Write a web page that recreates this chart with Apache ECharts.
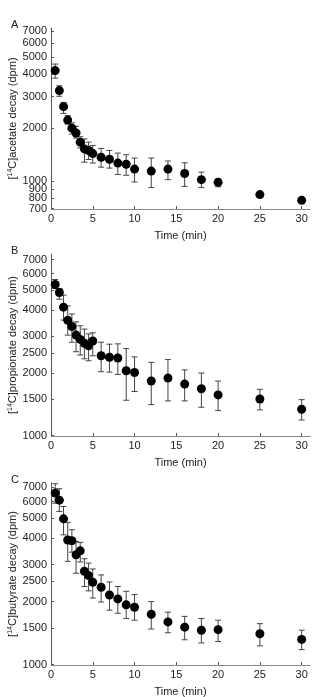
<!DOCTYPE html>
<html>
<head>
    <meta charset="utf-8">
    <title>14C decay</title>
    <style>
        body { margin: 0; padding: 0; background: #fff; }
        #main { width: 314px; height: 697px; }
    </style>
</head>
<body>
    <div id="main"></div>
    <script src="https://cdn.jsdelivr.net/npm/echarts@6/dist/echarts.min.js"></script>
    <script>
        // sampling times (min), shared by all three panels
        var times = [0.5, 1, 1.5, 2, 2.5, 3, 3.5, 4, 4.5, 5, 6, 7, 8, 9, 10, 12, 14, 16, 18, 20, 25, 30];

        // A: acetate
        var acetateMean = [4200, 3240, 2630, 2210, 1990, 1870, 1660, 1520, 1490, 1430, 1365, 1330, 1265, 1245, 1170, 1140, 1170, 1105, 1020, 985, 840, 780];
        var acetateHigh = [4570, 3450, 2780, 2340, 2130, 2040, 1780, 1730, 1660, 1590, 1530, 1490, 1440, 1410, 1350, 1350, 1300, 1270, 1125, 1030, null, null];
        var acetateLow = [3810, 3010, 2410, 2100, 1845, 1750, 1540, 1280, 1325, 1265, 1200, 1185, 1090, 1080, 990, 920, 1020, 935, 920, 930, null, null];

        // B: propionate
        var propionateMean = [5320, 4870, 4140, 3580, 3340, 3040, 2900, 2780, 2700, 2850, 2420, 2380, 2360, 2050, 2010, 1830, 1890, 1770, 1680, 1570, 1500, 1340];
        var propionateHigh = [5620, 5090, 4730, 4200, 3840, 3520, 3370, 3250, 3080, 3120, 2810, 2750, 2760, 2620, 2390, 2250, 2320, 2070, 2000, 1830, 1670, 1490];
        var propionateLow = [5090, 4520, 3590, 3040, 2810, 2530, 2440, 2340, 2290, 2420, 2030, 2020, 1970, 1480, 1630, 1410, 1470, 1470, 1370, 1320, 1330, 1190];

        // C: butyrate
        var butyrateMean = [6580, 6090, 4960, 3930, 3900, 3340, 3490, 2790, 2660, 2470, 2340, 2150, 2060, 1930, 1880, 1740, 1600, 1510, 1460, 1470, 1405, 1320];
        var butyrateHigh = [7290, 6900, 5680, 4770, 4400, 3870, 3830, 3200, 3050, 2860, 2680, 2480, 2360, 2240, 2160, 2000, 1780, 1700, 1660, 1630, 1570, 1460];
        var butyrateLow = [5890, 5380, 4160, 3110, 3440, 2730, 3090, 2360, 2250, 2080, 1990, 1820, 1760, 1660, 1630, 1480, 1420, 1315, 1270, 1290, 1230, 1180];

        var xTicks = [0, 5, 10, 15, 20, 25, 30];
        var yTicksA = [700, 800, 900, 1000, 2000, 3000, 4000, 5000, 6000, 7000];
        // panel A labels are split over two stacked axes so the tight 700-1000 labels aren't dropped as overlapping
        var yLabelsA = [700, 900, 2000, 3000, 4000, 5000, 6000, 7000];
        var yLabelsA2 = [800, 1000];
        var yTicksBC = [1000, 1500, 2000, 2500, 3000, 4000, 5000, 6000, 7000];

        var panels = [
            { letter: 'A', name: 'acetate', mean: acetateMean, hi: acetateHigh, lo: acetateLow, ticks: yTicksA, labels: yLabelsA, labels2: yLabelsA2, min: 697, max: 7300, top: 28, height: 181 },
            { letter: 'B', name: 'propionate', mean: propionateMean, hi: propionateHigh, lo: propionateLow, ticks: yTicksBC, labels: yTicksBC, min: 997, max: 7450, top: 254, height: 182 },
            { letter: 'C', name: 'butyrate', mean: butyrateMean, hi: butyrateHigh, lo: butyrateLow, ticks: yTicksBC, labels: yTicksBC, min: 997, max: 7350, top: 483, height: 182 }
        ];

        var font = 'Liberation Sans, Arial, sans-serif';
        var textColor = '#222';
        var axisColor = '#555';

        var grids = [], xAxes = [], yAxes = [], series = [], titles = [];

        function labelFmt(v) { return String(Math.round(v)); }

        panels.forEach(function (p, i) {
            grids.push({ left: 51, right: 4, top: p.top, height: p.height, outerBoundsMode: 'none', containLabel: false });
            titles.push({
                text: p.letter, left: 6, top: p.top - 14,
                textStyle: { fontFamily: font, fontSize: 11, fontWeight: 'normal', color: textColor }
            });
            xAxes.push({
                type: 'value', gridIndex: i, min: 0, max: 31,
                name: 'Time (min)', nameLocation: 'middle', nameGap: 21, nameMoveOverlap: false,
                nameTextStyle: { fontFamily: font, fontSize: 11, color: textColor },
                axisLine: { lineStyle: { color: '#888', width: 1 } },
                axisTick: { inside: true, length: 3, customValues: xTicks, lineStyle: { color: axisColor } },
                axisLabel: { customValues: xTicks, margin: 4, fontFamily: font, fontSize: 11, color: textColor },
                splitLine: { show: false }
            });

            var yIndex = yAxes.length;
            yAxes.push({
                type: 'log', gridIndex: i, position: 'left', min: p.min, max: p.max,
                name: '[{s|14}C]' + p.name + ' decay (dpm)', nameLocation: 'middle', nameGap: 33, nameMoveOverlap: false,
                nameTextStyle: {
                    fontFamily: font, fontSize: 11, color: textColor,
                    rich: { s: { fontFamily: font, fontSize: 7, color: textColor, verticalAlign: 'top', lineHeight: 8 } }
                },
                axisLine: { show: true, lineStyle: { color: axisColor, width: 1 } },
                axisTick: { inside: true, length: 3, customValues: p.ticks, lineStyle: { color: axisColor } },
                axisLabel: {
                    customValues: p.labels, margin: 4, fontFamily: font, fontSize: 11, color: textColor,
                    showMinLabel: true, showMaxLabel: true, hideOverlap: false,
                    formatter: labelFmt
                },
                splitLine: { show: false }
            });
            if (p.labels2) {
                yAxes.push({
                    type: 'log', gridIndex: i, position: 'left', offset: 0, min: p.min, max: p.max,
                    axisLine: { show: false },
                    axisTick: { show: false },
                    axisLabel: {
                        customValues: p.labels2, margin: 4, fontFamily: font, fontSize: 11, color: textColor,
                        showMinLabel: true, showMaxLabel: true, hideOverlap: false,
                        formatter: labelFmt
                    },
                    splitLine: { show: false }
                });
            }

            var errData = [];
            for (var k = 0; k < times.length; k++) {
                if (p.hi[k] != null) errData.push([times[k], p.lo[k], p.hi[k]]);
            }
            series.push({
                type: 'custom', xAxisIndex: i, yAxisIndex: yIndex, z: 1,
                encode: { x: 0, y: [1, 2] },
                renderItem: function (params, api) {
                    var x = api.value(0);
                    var a = api.coord([x, api.value(1)]);
                    var b = api.coord([x, api.value(2)]);
                    var cap = 3;
                    var st = { stroke: '#444', lineWidth: 1, fill: null };
                    return {
                        type: 'group',
                        children: [
                            { type: 'line', shape: { x1: a[0], y1: a[1], x2: b[0], y2: b[1] }, style: st },
                            { type: 'line', shape: { x1: a[0] - cap, y1: a[1], x2: a[0] + cap, y2: a[1] }, style: st },
                            { type: 'line', shape: { x1: b[0] - cap, y1: b[1], x2: b[0] + cap, y2: b[1] }, style: st }
                        ]
                    };
                },
                data: errData
            });
            series.push({
                type: 'scatter', xAxisIndex: i, yAxisIndex: yIndex, z: 2,
                symbol: 'circle', symbolSize: 9,
                itemStyle: { color: '#000', opacity: 1 },
                data: times.map(function (t, k) { return [t, p.mean[k]]; })
            });
        });

        var chart = echarts.init(document.getElementById('main'));
        chart.setOption({
            animation: false,
            backgroundColor: '#fff',
            title: titles,
            grid: grids,
            xAxis: xAxes,
            yAxis: yAxes,
            series: series
        });
    </script>
</body>
</html>
